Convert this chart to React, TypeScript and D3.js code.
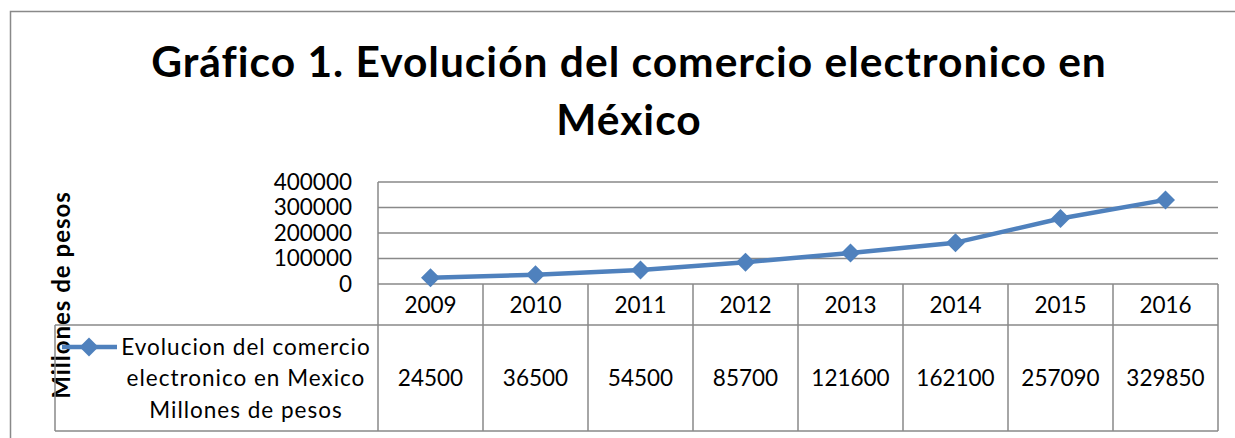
import React from 'react'
import * as d3 from 'd3'

const years = ['2009', '2010', '2011', '2012', '2013', '2014', '2015', '2016']
const values = [24500, 36500, 54500, 85700, 121600, 162100, 257090, 329850]
const yTicks = [0, 100000, 200000, 300000, 400000]
const legendLines = ['Evolucion del comercio', 'electronico en Mexico', 'Millones de pesos']
const titleLines = ['Gráfico 1. Evolución del comercio electronico en', 'México']

const font = 'Lato, "Open Sans", sans-serif'
const blue = '#4F81BD'
const grey = '#898989'

function App() {
    const W = 1235
    const H = 438

    const x = d3.scaleBand().domain(years).range([378, 1218]).padding(0)
    const y = d3.scaleLinear().domain([0, 400000]).range([284, 182])

    const rowTop = 284
    const rowMid = 325
    const rowBottom = 431
    const tableLeft = 55

    const line = d3.line<number>()
        .x((d, i) => x(years[i])! + x.bandwidth() / 2)
        .y(d => y(d))

    const diamond = (cx: number, cy: number, r: number) =>
        `M${cx},${cy - r}L${cx + r},${cy}L${cx},${cy + r}L${cx - r},${cy}Z`

    return (
        <svg width={W} height={H} style={{ position: 'absolute', left: 0, top: 0, fontVariantLigatures: 'none' }} fontFamily={font}>
            <rect x={0} y={0} width={W} height={H} fill="#fff" />
            {/* outer chart border */}
            <path d={`M10.5,${H}V11.5H${W}`} fill="none" stroke={grey} strokeWidth={1.5} />

            {titleLines.map((t, i) => (
                <text key={i} x={629} y={77 + i * 58} textAnchor="middle" fontSize={42.5} fontWeight="bold" letterSpacing={1} fill="#000">{t}</text>
            ))}

            <text transform="translate(70,295) rotate(-90)" textAnchor="middle" fontSize={24} fontWeight="bold" letterSpacing={1} fill="#000">Millones de pesos</text>

            {/* gridlines */}
            {yTicks.map(t => (
                <line key={t} x1={378} x2={1218} y1={y(t)} y2={y(t)} stroke={grey} strokeWidth={1.5} />
            ))}
            <line x1={378} x2={378} y1={y(400000)} y2={rowBottom} stroke={grey} strokeWidth={1.5} />

            {yTicks.map(t => (
                <text key={t} x={352} y={y(t)} dy="0.35em" textAnchor="end" fontSize={22.5} fill="#000">{t}</text>
            ))}

            {/* data table */}
            <line x1={tableLeft} x2={1218} y1={rowMid} y2={rowMid} stroke={grey} strokeWidth={1.5} />
            <line x1={tableLeft} x2={1218} y1={rowBottom} y2={rowBottom} stroke={grey} strokeWidth={1.5} />
            <line x1={tableLeft} x2={tableLeft} y1={rowMid} y2={rowBottom} stroke={grey} strokeWidth={1.5} />
            {years.map(yr => (
                <line key={yr} x1={x(yr)! + x.bandwidth()} x2={x(yr)! + x.bandwidth()} y1={rowTop} y2={rowBottom} stroke={grey} strokeWidth={1.5} />
            ))}
            {years.map(yr => (
                <text key={yr} x={x(yr)! + x.bandwidth() / 2} y={305} dy="0.35em" textAnchor="middle" fontSize={22.5} fill="#000">{yr}</text>
            ))}
            {values.map((v, i) => (
                <text key={i} x={x(years[i])! + x.bandwidth() / 2} y={378} dy="0.35em" textAnchor="middle" fontSize={22.5} fill="#000">{v}</text>
            ))}

            {/* legend key */}
            <line x1={62} x2={117} y1={347} y2={347} stroke={blue} strokeWidth={4.5} />
            <path d={diamond(89, 347, 9.5)} fill={blue} />
            {legendLines.map((t, i) => (
                <text key={i} x={246} y={347 + i * 31.5} dy="0.35em" textAnchor="middle" fontSize={22.5} letterSpacing={1} fill="#000">{t}</text>
            ))}

            {/* series */}
            <path d={line(values)!} fill="none" stroke={blue} strokeWidth={4.5} strokeLinejoin="round" />
            {values.map((v, i) => (
                <path key={i} d={diamond(x(years[i])! + x.bandwidth() / 2, y(v), 9.5)} fill={blue} />
            ))}
        </svg>
    )
}

export default App
